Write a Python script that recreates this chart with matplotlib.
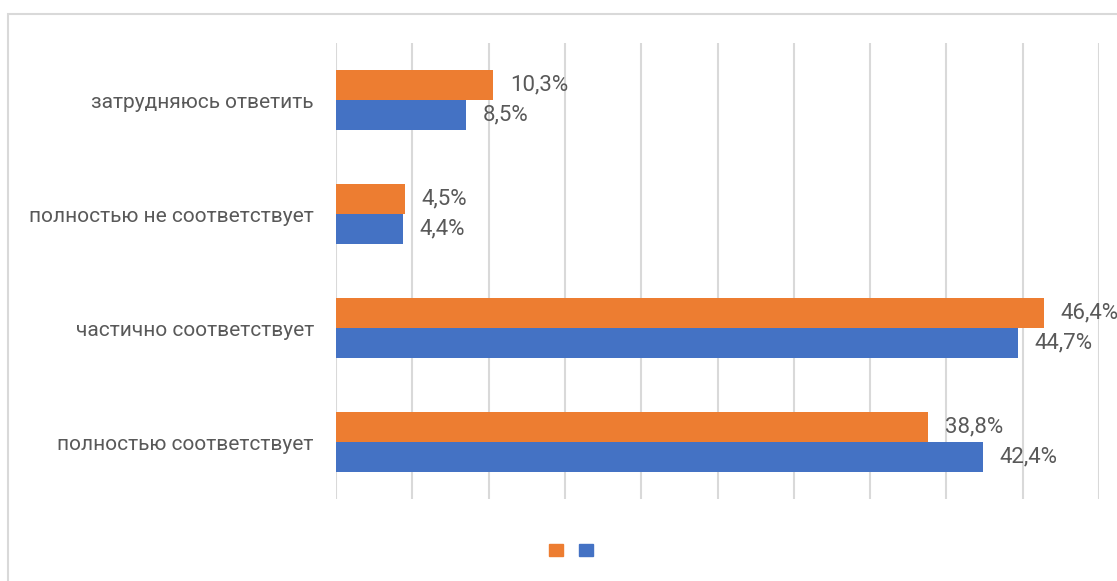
import matplotlib.pyplot as plt
from matplotlib.patches import Rectangle, Patch

plt.rcParams['font.family'] = ['Roboto', 'DejaVu Sans']

categories = ['полностью соответствует', 'частично соответствует',
              'полностью не соответствует', 'затрудняюсь ответить']
orange_vals = [38.8, 46.4, 4.5, 10.3]
blue_vals = [42.4, 44.7, 4.4, 8.5]

orange = '#ED7D31'
blue = '#4472C4'
txt = '#595959'

W, H = 1117, 581
fig = plt.figure(figsize=(W / 100, H / 100), dpi=100)
ax = fig.add_axes([336 / W, 1 - 499 / H, 763 / W, 456 / H])

# outer chart border (clipped on right and bottom)
fig.patches.append(Rectangle((8 / W, -0.1), 1.2, 1 - 14 / H + 0.1,
                             transform=fig.transFigure, fill=False,
                             edgecolor='#D9D9D9', linewidth=1.5))

y = list(range(len(categories)))
h = 0.263
bo = ax.barh([i + h / 2 for i in y], orange_vals, height=h, color=orange, zorder=3)
bb = ax.barh([i - h / 2 for i in y], blue_vals, height=h, color=blue, zorder=3)

def fmt(vals):
    return [f"{v:.1f}%".replace('.', ',') for v in vals]

ax.bar_label(bo, labels=fmt(orange_vals), padding=12, fontsize=16, color=txt, clip_on=False)
ax.bar_label(bb, labels=fmt(blue_vals), padding=12, fontsize=16, color=txt, clip_on=False)

ax.set_xlim(0, 50)
ax.set_ylim(-0.5, len(categories) - 0.5)
ax.set_xticks(range(0, 51, 5))
ax.set_xticklabels([])
ax.set_yticks(y)
ax.set_yticklabels(categories, fontsize=15, color=txt)
ax.tick_params(axis='both', length=0)
ax.tick_params(axis='y', pad=16)
ax.grid(axis='x', color='#D9D9D9', linewidth=1.5, zorder=0)
for s in ax.spines.values():
    s.set_visible(False)

handles = [Patch(color=orange), Patch(color=blue)]
fig.legend(handles, ['', ''], loc='center', bbox_to_anchor=(571 / W, 1 - 551 / H),
           ncol=2, frameon=False, fontsize=10, handlelength=1, handleheight=1,
           handletextpad=0, columnspacing=1.2)

fig.savefig('out.png', dpi=100)
